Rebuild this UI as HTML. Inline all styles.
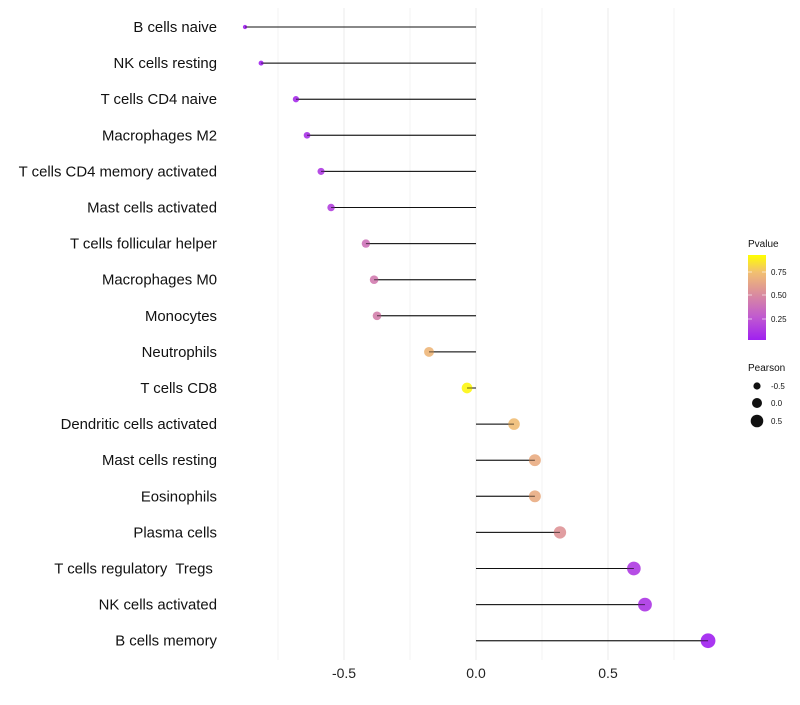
<!DOCTYPE html>
<html><head><meta charset="utf-8"><style>
body{margin:0;background:#fff;font-family:"Liberation Sans",sans-serif}
text{white-space:pre}
</style></head><body>
<svg id="c" width="800" height="700" xmlns="http://www.w3.org/2000/svg">
<defs><linearGradient id="pg" x1="0" y1="1" x2="0" y2="0">
<stop offset="0" stop-color="#a020f0"/><stop offset="0.27" stop-color="#c05ad0"/><stop offset="0.53" stop-color="#d98aa0"/><stop offset="0.8" stop-color="#f2c070"/><stop offset="1" stop-color="#ffff00"/></linearGradient></defs>
<g id="grid"></g><g id="marks"></g><g id="labels"></g>
<g font-size="10" fill="#111">
<text x="748" y="247">Pvalue</text>
<rect x="748" y="255" width="18" height="85" fill="url(#pg)"/>
<line x1="748" y1="272" x2="752" y2="272" stroke="#fff" opacity=".6"/><line x1="762" y1="272" x2="766" y2="272" stroke="#fff" opacity=".6"/>
<line x1="748" y1="295" x2="752" y2="295" stroke="#fff" opacity=".6"/><line x1="762" y1="295" x2="766" y2="295" stroke="#fff" opacity=".6"/>
<line x1="748" y1="319" x2="752" y2="319" stroke="#fff" opacity=".6"/><line x1="762" y1="319" x2="766" y2="319" stroke="#fff" opacity=".6"/>
<text x="771" y="275" font-size="8">0.75</text><text x="771" y="298" font-size="8">0.50</text><text x="771" y="322" font-size="8">0.25</text>
</g>
<g font-size="10" fill="#111">
<text x="748" y="371">Pearson</text>
<circle cx="757" cy="386" r="3.6"/><text x="771" y="389" font-size="8">-0.5</text>
<circle cx="757" cy="403" r="5"/><text x="771" y="406" font-size="8">0.0</text>
<circle cx="757" cy="421" r="6.3"/><text x="771" y="424" font-size="8">0.5</text>
</g>
</svg>
<script>
const categories=["B cells naive","NK cells resting","T cells CD4 naive","Macrophages M2","T cells CD4 memory activated","Mast cells activated","T cells follicular helper","Macrophages M0","Monocytes","Neutrophils","T cells CD8","Dendritic cells activated","Mast cells resting","Eosinophils","Plasma cells","T cells regulatory  Tregs ","NK cells activated","B cells memory"];
const pearson=[-0.875,-0.814,-0.682,-0.64,-0.587,-0.549,-0.417,-0.386,-0.375,-0.178,-0.034,0.144,0.223,0.223,0.318,0.598,0.64,0.879];
const pvalue=[0.0,0.01,0.05,0.08,0.12,0.15,0.4,0.45,0.47,0.75,0.97,0.78,0.7,0.7,0.58,0.12,0.1,0.0];
const xTicks=[-0.5,0,0.5];
const xTickLabels=["-0.5","0.0","0.5"];
const NS="http://www.w3.org/2000/svg";
const X=v=>476+v*264;
const Y=i=>27+i*36.1;
const R=v=>Math.sqrt(4.5+50*(v+0.875)/1.754);
const stops=[[0,[160,32,240]],[0.27,[192,90,208]],[0.53,[217,138,160]],[0.8,[242,192,112]],[1,[255,255,0]]];
function col(p){for(let k=1;k<stops.length;k++){if(p<=stops[k][0]){const a=stops[k-1],b=stops[k],t=(p-a[0])/(b[0]-a[0]);return "rgb("+a[1].map((c,j)=>Math.round(c+(b[1][j]-c)*t)).join(",")+")";}}return "rgb(255,255,0)";}
function mk(t,at,parent){const e=document.createElementNS(NS,t);for(const k in at)e.setAttribute(k,at[k]);document.getElementById(parent).appendChild(e);return e;}
[-0.75,-0.5,-0.25,0,0.25,0.5,0.75].forEach(v=>{
const l=mk('line',{x1:X(v),x2:X(v),y1:8,y2:660,stroke:xTicks.includes(v)?'#ebebeb':'#f3f3f3','stroke-width':1},'grid');


});
xTicks.forEach((v,i)=>{
const t=mk('text',{x:X(v),y:678,'text-anchor':'middle','font-size':14,fill:'#222'},'labels');t.textContent=xTickLabels[i];


});
categories.forEach((c,i)=>{
const t=mk('text',{x:217,y:Y(i)+5,'text-anchor':'end','font-size':14.9,fill:'#111','xml:space':'preserve'},'labels');t.textContent=c;


const l=mk('line',{x1:X(0),x2:X(pearson[i]),y1:Y(i),y2:Y(i),stroke:'#111','stroke-width':1},'marks');


const p=mk('circle',{cx:X(pearson[i]),cy:Y(i),r:R(pearson[i]),fill:col(pvalue[i]),'fill-opacity':0.9},'marks');


const l2=mk('line',{x1:X(0),x2:X(pearson[i]),y1:Y(i),y2:Y(i),stroke:'#111','stroke-width':1,opacity:0.6},'marks');


});
</script>
</body></html>
